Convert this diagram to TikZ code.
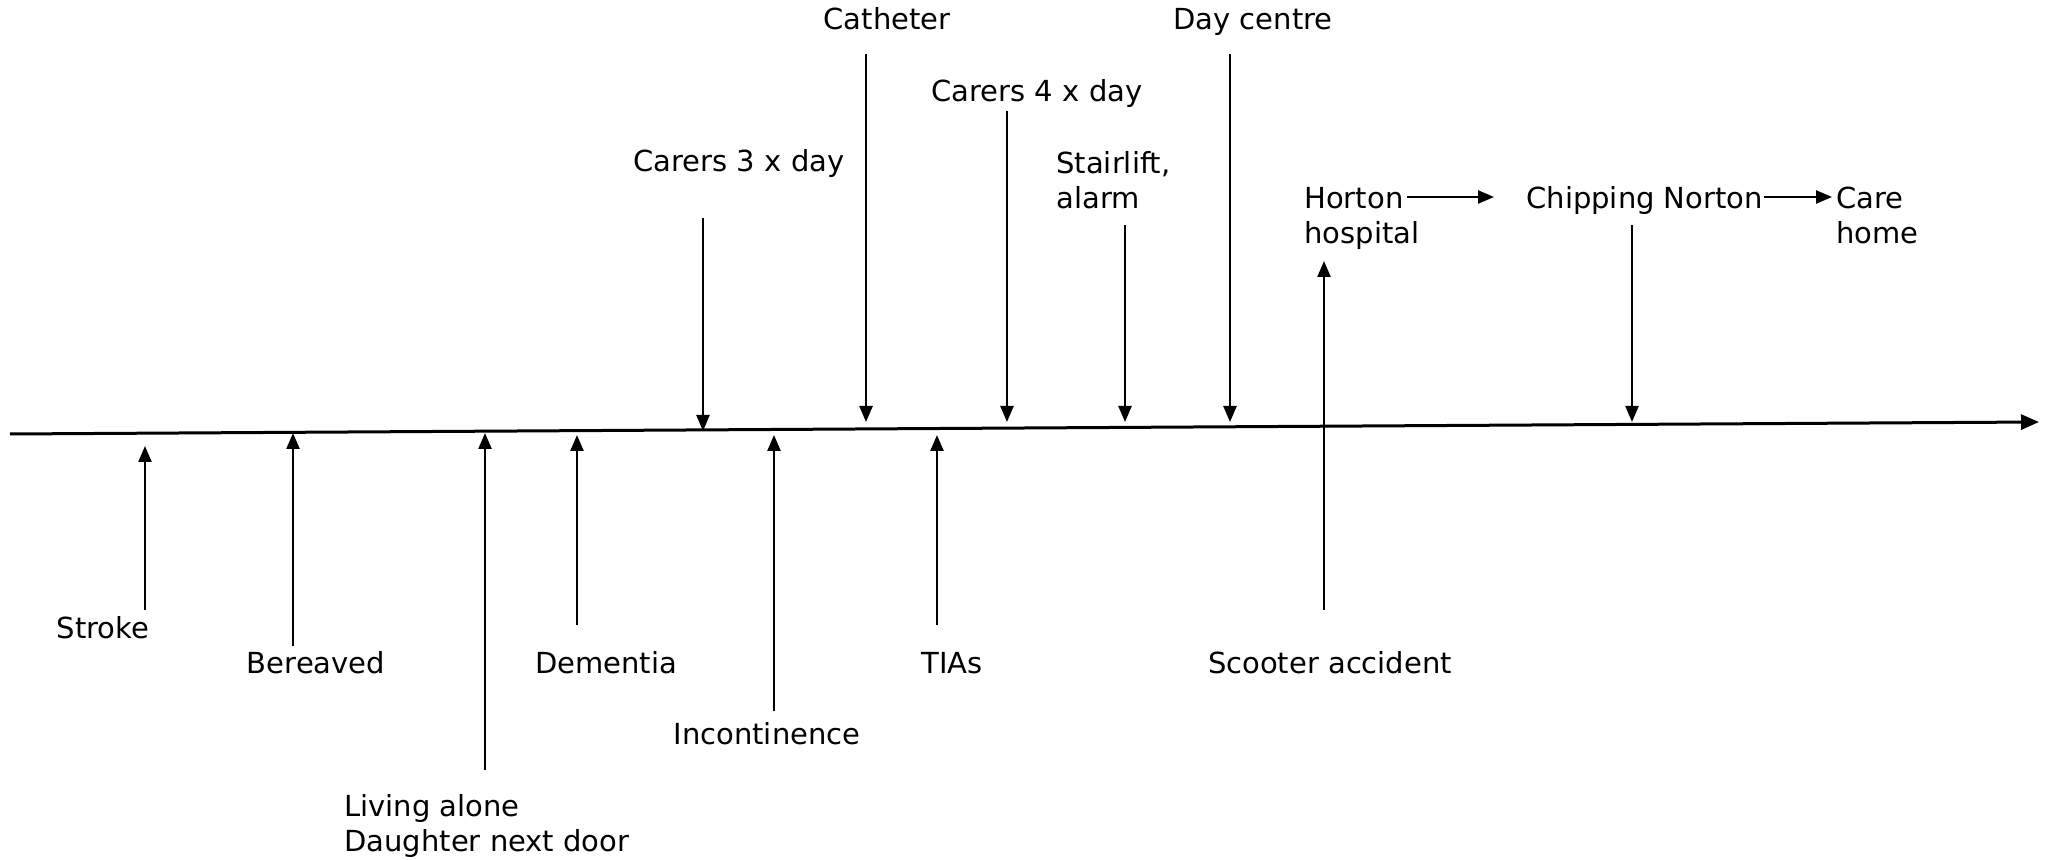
\documentclass[tikz,border=0pt]{standalone}
\usepackage{fontspec}
\setmainfont{DejaVu Sans}
\usetikzlibrary{arrows.meta}

\begin{document}
\begin{tikzpicture}[x=0.5pt, y=-0.5pt,
		lbl/.style = {inner sep=0pt, font=\fontsize{14.5pt}{17.5pt}\selectfont},
		evt/.style = {line width=1.2pt, -{Triangle[length=8pt,width=6.5pt]}},
		axis/.style = {line width=1.5pt, -{Triangle[length=9pt,width=7.5pt]}}]
			\useasboundingbox (0,0) rectangle (2049,860);
			
			% time line
			\coordinate (t0) at (10,434);
			\coordinate (t1) at (2039,422);
			\draw[axis] (t0) -- (t1);
			
			% events below the line
			\node[lbl, anchor=base] (stroke) at (103,638) {Stroke};
			\node[lbl, anchor=base] (bereaved) at (316,673) {Bereaved};
			\node[lbl, anchor=base west, align=left] (alone) at (344,851) {Living alone\\Daughter next door};
			\node[lbl, anchor=base] (dementia) at (606,673) {Dementia};
			\node[lbl, anchor=base] (incont) at (767,744) {Incontinence};
			\node[lbl, anchor=base] (tias) at (952,673) {TIAs};
			\node[lbl, anchor=base] (scooter) at (1330,673) {Scooter accident};
			
			% services above the line
			\node[lbl, anchor=base] (carers3) at (739,172) {Carers 3 x day};
			\node[lbl, anchor=base] (catheter) at (887,30) {Catheter};
			\node[lbl, anchor=base] (carers4) at (1037,102) {Carers 4 x day};
			\node[lbl, anchor=base west, align=left] (stair) at (1056,209) {Stairlift,\\alarm};
			\node[lbl, anchor=base] (daycentre) at (1253,30) {Day centre};
			\node[lbl, anchor=base west, align=left] (horton) at (1304,244) {Horton\\hospital};
			\node[lbl, anchor=base west] (chipping) at (1526,209) {Chipping Norton};
			\node[lbl, anchor=base west, align=left] (care) at (1836,244) {Care\\home};
			
			\foreach \n/\x/\a/\b in {stroke/145/610/446, bereaved/293/646/433,
					alone/485/770/433, dementia/577/625/435, incont/774/711/435,
					tias/937/625/435, scooter/1324/610/261,
					carers3/703/218/431, catheter/866/54/422, carers4/1007/111/422,
					stair/1125/225/422, daycentre/1230/54/422, chipping/1632/225/422} {
				\coordinate (\n s) at (\x,\a);
				\coordinate (\n e) at (\x,\b);
				\draw[evt] (\n s) -- (\n e);
			}
			
			% moves
			\coordinate (hortonA) at (1407,197);
			\coordinate (hortonB) at (1494,197);
			\draw[evt] (hortonA) -- (hortonB);
			\coordinate (chipA) at (1764,197);
			\coordinate (chipB) at (1832,197);
			\draw[evt] (chipA) -- (chipB);
			
\end{tikzpicture}
\end{document}
